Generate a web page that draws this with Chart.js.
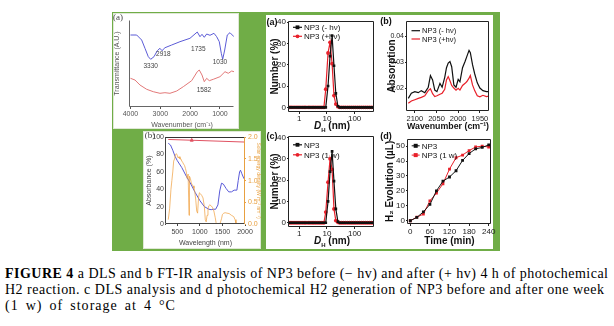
<!DOCTYPE html>
<html lang="en">
<head>
<meta charset="UTF-8">
<title>Figure 4</title>
<script src="https://cdn.jsdelivr.net/npm/chart.js"></script>
<style>
  html, body { margin: 0; padding: 0; background: #fff; }
  #fig { position: relative; width: 614px; height: 326px; overflow: hidden; font-family: 'Liberation Sans', Arial, sans-serif; }
  .box { position: absolute; box-sizing: border-box; }
  canvas { position: absolute; }
  .lab { position: absolute; transform: translate(-50%, -50%); white-space: nowrap; color: #111; }
  .cap { position: absolute; left: 5px; font-family: 'Liberation Serif', serif; font-size: 14px; line-height: 16px; white-space: nowrap; color: #000; }
</style>
</head>
<body>
<div id="fig">
  <div class="box" style="left:112px;top:12px;width:388px;height:239px;background:#70ad47"></div>
  <div class="box" style="left:113px;top:13px;width:126px;height:116px;background:#fff;border:1px solid #dfe8d6"></div>
  <div class="box" style="left:143px;top:131px;width:118px;height:118px;background:#fff;border:1px solid #dfe8d6"></div>
  <div class="box" style="left:266px;top:15px;width:227px;height:234px;background:#fff"></div>

  <canvas id="irA"></canvas>
  <canvas id="absB"></canvas>
  <canvas id="dlsA"></canvas>
  <canvas id="ftB"></canvas>
  <canvas id="dlsC"></canvas>
  <canvas id="h2D"></canvas>

  <div class="lab" style="left:118px;top:17px;font:9px 'Liberation Serif',serif;color:#444">(a)</div>
  <div class="lab" style="left:150px;top:135px;font:9px 'Liberation Serif',serif;color:#444">(b)</div>
  <div class="lab" style="left:272px;top:22px;font-weight:bold;font-size:9px">(a)</div>
  <div class="lab" style="left:386px;top:21px;font-weight:bold;font-size:9px">(b)</div>
  <div class="lab" style="left:272px;top:136px;font-weight:bold;font-size:9px">(c)</div>
  <div class="lab" style="left:386px;top:136px;font-weight:bold;font-size:9px">(d)</div>
  <div class="lab" style="left:332px;top:126px;font-weight:bold;font-size:10px"><i>D</i><sub style="font-size:6px">H</sub> (nm)</div>
  <div class="lab" style="left:332px;top:241px;font-weight:bold;font-size:10px"><i>D</i><sub style="font-size:6px">H</sub> (nm)</div>

  <div class="cap" id="l1" style="top:266px"><b>FIGURE 4</b> a DLS and b FT-IR analysis of NP3 before (− hv) and after (+ hv) 4 h of photochemical</div>
  <div class="cap" id="l2" style="top:282px">H2 reaction. c DLS analysis and d photochemical H2 generation of NP3 before and after one week</div>
  <div class="cap" id="l3" style="top:298px">(1 w) of storage at 4 °C</div>
</div>
<script>
// left (a): FT-IR transmittance, arbitrary units
const irWn = [4000, 3792, 3625, 3514, 3403, 3323, 3212, 3102, 3011, 2944, 2843, 2619, 2341, 2006, 1761, 1670, 1603, 1526, 1446, 1335, 1201, 1111, 1023, 956, 909, 842, 755, 665, 531];
const irTop = [65, 65, 60, 51.7, 43.3, 40.7, 43.3, 49.3, 51.7, 49.3, 52.3, 55, 58.3, 61.7, 68, 63.3, 65.7, 62.7, 66, 64.7, 66.7, 63.3, 58.3, 46.7, 40.7, 50, 65, 67.3, 63.3];
const irRedWn = [4000, 3849, 3682, 3457, 3236, 3011, 2844, 2676, 2451, 2230, 1949, 1761, 1694, 1603, 1526, 1446, 1359, 1225, 1000, 832, 722, 608, 531];
const irBottom = [21.7, 20, 15, 10.7, 8.3, 6.7, 7.3, 6.7, 9, 13.3, 19.3, 28.3, 30, 25, 18.3, 21.7, 19.3, 20.7, 23.3, 28.3, 26.7, 29, 28.3];
const peakText = ['3330', '2918', '1735', '1030', '1582'];
const peakWn = [3323, 2900, 1727, 1000, 1536];
const peakVal = [34, 46, 50.7, 37.5, 10];

// left (b): absorbance (%) and solar spectrum
const absWl = [300, 350, 400, 450, 500, 600, 700, 800, 900, 1000, 1100, 1200, 1250, 1300, 1350, 1400, 1440, 1480, 1520, 1580, 1640, 1700, 1760, 1820, 1850, 1880, 1900, 1930, 1970, 2000];
const absBlue = [93, 91, 85, 78, 73, 65, 55, 46, 36, 27, 20, 17, 16.5, 17, 17, 22, 38, 47, 46, 41, 37, 37, 39, 39, 50, 60, 62, 58, 53, 51];
const refWl = [300, 820, 2000];
const refAbs = [97.4, 96.5, 94.4];
const solarWl = [300, 330, 360, 380, 400, 420, 440, 460, 480, 500, 520, 540, 560, 580, 600, 620, 640, 660, 680, 700, 720, 740, 760, 770, 790, 810, 830, 850, 870, 890, 910, 930, 950, 970, 990, 1010, 1040, 1070, 1100, 1120, 1140, 1160, 1180, 1200, 1220, 1250, 1280, 1310, 1340, 1360, 1380, 1400, 1420, 1450, 1480, 1500, 1530, 1560, 1600, 1650, 1700, 1750, 1780, 1800, 1830, 1860, 1900, 1950, 2000];
const solar = [0.1, 0.35, 0.8, 1.0, 1.2, 1.45, 1.5, 1.6, 1.62, 1.58, 1.52, 1.55, 1.5, 1.5, 1.45, 1.42, 1.38, 1.35, 1.28, 1.2, 1.05, 1.15, 0.2, 1.1, 1.05, 0.95, 0.9, 0.88, 0.82, 0.72, 0.55, 0.3, 0.25, 0.6, 0.72, 0.7, 0.66, 0.6, 0.4, 0.1, 0.05, 0.2, 0.35, 0.42, 0.44, 0.42, 0.38, 0.3, 0.15, 0.03, 0, 0, 0, 0.02, 0.12, 0.22, 0.25, 0.26, 0.25, 0.24, 0.2, 0.17, 0.1, 0.02, 0, 0, 0, 0.01, 0.03];

// right (a)/(c): DLS number distributions
const dlsSize = [0.47, 0.55, 0.65, 0.77, 0.91, 1.07, 1.27, 1.5, 1.75, 2.1, 2.45, 2.9, 3.4, 4.0, 4.75, 5.6, 6.6, 7.8, 9.1, 11, 13, 15.4, 18, 21, 25, 29, 34, 40, 47, 56, 66, 78, 92, 108, 128, 151, 178, 210, 248, 293, 345, 408, 480];
const dlsDark  = [0,0,0,0,0, 0,0,0,0,0, 0,0,0,0,0, 0,0,0,0,10, 24,33.6,19.5,6.5,0.5, 0,0,0,0,0, 0,0,0,0,0, 0,0,0,0,0, 0,0,0];
const dlsLight = [0,0,0,0,0, 0,0,0,0,0, 0,0,0,0,0, 0,0,0,8.5,25.5, 30.5,20.5,5.5,1.5,0.3, 0,0,0,0,0, 0,0,0,0,0, 0,0,0,0,0, 0,0,0];
const dlsFresh = [0,0,0,0,0, 0,0,0,0,0, 0,0,0,0,0, 0,0,0,0,10, 24,33.5,19.5,6.5,0.5, 0,0,0,0,0, 0,0,0,0,0, 0,0,0,0,0, 0,0,0];
const dlsWeek  = [0,0,0,0,0, 0,0,0,0,0, 0,0,0,0,0, 0,0,0,5,19, 30,25,6.5,1,0.2, 0,0,0,0,0, 0,0,0,0,0, 0,0,0,0,0, 0,0,0];

// right (b): FT-IR absorption
const ftWn = [2115, 2108, 2100, 2092, 2085, 2077, 2069, 2064, 2059, 2054, 2049, 2042, 2037, 2031, 2027, 2023, 2019, 2015, 2010, 2005, 2000, 1996, 1990, 1984, 1980, 1975, 1972, 1967, 1962, 1956, 1950, 1943, 1935, 1927];
const ftDark  = [0.0160, 0.0180, 0.0186, 0.0182, 0.0190, 0.0182, 0.0203, 0.0248, 0.0231, 0.0192, 0.0186, 0.0218, 0.0203, 0.0241, 0.0278, 0.0296, 0.0302, 0.0282, 0.0212, 0.0203, 0.0233, 0.0224, 0.0278, 0.0303, 0.0322, 0.0345, 0.0336, 0.0290, 0.0255, 0.0220, 0.0200, 0.0190, 0.0186, 0.0186];
const ftLight = [0.0141, 0.0150, 0.0155, 0.0160, 0.0164, 0.0170, 0.0190, 0.0197, 0.0178, 0.0167, 0.0170, 0.0176, 0.0180, 0.0195, 0.0231, 0.0244, 0.0228, 0.0210, 0.0200, 0.0192, 0.0199, 0.0192, 0.0210, 0.0218, 0.0225, 0.0238, 0.0248, 0.0212, 0.0190, 0.0170, 0.0166, 0.0172, 0.0167, 0.0169];

// right (d): H2 evolution
const h2Time = [0, 20, 40, 60, 80, 100, 120, 140, 160, 180, 200, 220, 240];
const h2Fresh = [0, 2.2, 5.9, 10.9, 20, 26.5, 29.3, 33.5, 40.4, 45, 48.2, 49.1, 50.8];
const h2Week = [0, 2.4, 4.4, 13.3, 18.5, 24.8, 34.6, 42.2, 44, 47, 49.4, 50, 49.4];

const xy = (xs, ys) => xs.map((x, i) => ({ x: x, y: ys[i] }));

// box lines around plot area
const framePlugin = {
  id: 'frame',
  afterDatasetsDraw(chart, args, o) {
    if (!o.sides) return;
    const a = chart.chartArea, ctx = chart.ctx;
    const L = Math.round(a.left) - 0.5, R = Math.round(a.right) - 0.5;
    const T = Math.round(a.top) + 0.5, B = Math.round(a.bottom) - 0.5;
    ctx.save();
    ctx.lineWidth = 1;
    const seg = (c, x1, y1, x2, y2) => {
      if (!c) return;
      ctx.strokeStyle = c; ctx.beginPath(); ctx.moveTo(x1, y1); ctx.lineTo(x2, y2); ctx.stroke();
    };
    seg(o.sides.top, L, T, R, T);
    seg(o.sides.bottom, L, B, R, B);
    seg(o.sides.left, L, T, L, B);
    seg(o.sides.right, R, T, R, B);
    ctx.restore();
  }
};

// legend drawn inside the plot (line + marker + text)
const innerLegend = {
  id: 'innerLegend',
  afterDatasetsDraw(chart, args, o) {
    if (!o.rows) return;
    const a = chart.chartArea, ctx = chart.ctx;
    ctx.save();
    ctx.font = o.font || '8px "Liberation Sans"';
    ctx.textBaseline = 'middle';
    chart.data.datasets.forEach((ds, i) => {
      if (o.rows[i] === undefined) return;
      const x = a.left + o.x, y = a.top + o.rows[i];
      ctx.strokeStyle = ds.borderColor; ctx.lineWidth = ds.borderWidth || 1;
      ctx.beginPath(); ctx.moveTo(x, y); ctx.lineTo(x + o.len, y); ctx.stroke();
      const r = ds.pointRadius || 0;
      if (r) {
        ctx.fillStyle = ds.backgroundColor;
        const cx = x + o.len / 2;
        if (ds.pointStyle === 'rect') ctx.fillRect(cx - r, y - r, 2 * r, 2 * r);
        else { ctx.beginPath(); ctx.arc(cx, y, r, 0, Math.PI * 2); ctx.fill(); }
      }
      ctx.fillStyle = o.color || '#111';
      ctx.fillText(ds.label, x + o.len + 2, y + 0.5);
    });
    ctx.restore();
  }
};

// peak numbers on the transmittance plot
const peakLabels = {
  id: 'peakLabels',
  afterDatasetsDraw(chart, args, o) {
    if (!o.text) return;
    const ctx = chart.ctx, sx = chart.scales.x, sy = chart.scales.y;
    ctx.save();
    ctx.font = o.font; ctx.fillStyle = o.color;
    ctx.textAlign = 'center'; ctx.textBaseline = 'middle';
    o.text.forEach((t, i) => ctx.fillText(t, sx.getPixelForValue(o.xs[i]), sy.getPixelForValue(o.ys[i])));
    ctx.restore();
  }
};

const setTicks = vals => s => { s.ticks = vals.map(v => ({ value: v })); };

function axis(extra) {
  const base = {
    border: { display: false },
    grid: { display: true, drawOnChartArea: false, tickLength: 2, color: '#222', lineWidth: 1 },
    ticks: { color: '#222', font: { size: 8 }, padding: 1, maxRotation: 0, autoSkip: false, callback: v => String(v) },
  };
  const out = Object.assign({}, base, extra);
  out.grid = Object.assign({}, base.grid, extra.grid || {});
  out.ticks = Object.assign({}, base.ticks, extra.ticks || {});
  return out;
}

function makeChart(id, plot, m, scales, datasets, plugins) {
  const c = document.getElementById(id);
  c.width = plot[2] - plot[0] + m[0] + m[2];
  c.height = plot[3] - plot[1] + m[1] + m[3];
  c.style.left = (plot[0] - m[0]) + 'px';
  c.style.top = (plot[1] - m[1]) + 'px';
  scales.x.afterFit = s => { s.height = m[3]; };
  scales.y.afterFit = s => { s.width = m[0]; };
  const hasRight = !!scales.y2;
  if (hasRight) scales.y2.afterFit = s => { s.width = m[2]; };
  return new Chart(c, {
    type: 'line',
    data: { datasets: datasets },
    options: {
      responsive: false, animation: false, devicePixelRatio: 1, events: [],
      layout: { padding: { top: m[1], right: hasRight ? 0 : m[2], left: 0, bottom: 0 } },
      scales: scales,
      plugins: Object.assign({ legend: { display: false }, tooltip: { enabled: false } }, plugins || {})
    },
    plugins: [framePlugin, innerLegend, peakLabels]
  });
}

Chart.defaults.font.family = "'Liberation Sans', Arial, sans-serif";

// ---- left (a) transmittance ----
makeChart('irA', [130, 20, 234, 107], [17, 7, 4, 22], {
  x: axis({ type: 'linear', reverse: true, min: 530, max: 4016, afterBuildTicks: setTicks([4000, 3000, 2000, 1000]),
    ticks: { color: '#555', font: { size: 7 }, padding: 0.5 }, grid: { color: '#555' },
    title: { display: true, text: 'Wavenumber (cm⁻¹)', color: '#555', font: { size: 7 }, padding: { top: 0, bottom: 0 } } }),
  y: axis({ type: 'linear', min: -7, max: 80, ticks: { display: false }, grid: { display: false },
    title: { display: true, text: 'Transmittance (A.U.)', color: '#555', font: { size: 7 }, padding: { top: 0, bottom: 0 } } })
}, [
  { data: xy(irWn, irTop), borderColor: '#5b5bd6', borderWidth: 1, pointRadius: 0 },
  { data: xy(irRedWn, irBottom), borderColor: '#e27878', borderWidth: 1, pointRadius: 0 }
], {
  frame: { sides: { left: '#666', bottom: '#666' } },
  peakLabels: { text: peakText, xs: peakWn, ys: peakVal, font: '6.5px "Liberation Sans"', color: '#444' }
});

// ---- left (b) absorbance + solar spectrum ----
makeChart('absB', [166, 135, 245, 224], [23, 4, 16, 25], {
  x: axis({ type: 'linear', min: 250, max: 2000, afterBuildTicks: setTicks([500, 1000, 1500, 2000]),
    ticks: { color: '#444', font: { size: 7 }, padding: 2 }, grid: { color: '#444' },
    title: { display: true, text: 'Wavelength (nm)', color: '#444', font: { size: 7 }, padding: { top: 0, bottom: 1.5 } } }),
  y: axis({ type: 'linear', min: 0, max: 100, afterBuildTicks: setTicks([0, 20, 40, 60, 80, 100]),
    ticks: { color: '#444', font: { size: 7 }, padding: 1 }, grid: { tickLength: 1, color: '#444' },
    title: { display: true, text: 'Absorbance (%)', color: '#444', font: { size: 7 }, padding: { top: 1.8, bottom: 0 } } }),
  y2: axis({ type: 'linear', position: 'right', min: 0, max: 2, afterBuildTicks: setTicks([0, 0.5, 1, 1.5, 2]),
    ticks: { color: '#e8a040', font: { size: 7 }, padding: 2, callback: v => v.toFixed(1) }, grid: { tickLength: 1, color: '#e8a040' },
    title: { display: true, text: 'Solar energy density (W m⁻² nm⁻¹)', color: '#e8a040', font: { size: 5 }, padding: { top: 0, bottom: 0 } } })
}, [
  { data: xy(solarWl, solar), yAxisID: 'y2', borderColor: 'rgba(240,160,64,0.8)', borderWidth: 0.9, pointRadius: 0 },
  { data: xy(absWl, absBlue), borderColor: '#5a5ad8', borderWidth: 1, pointRadius: 0 },
  { data: xy(refWl, refAbs), borderColor: '#e05262', backgroundColor: '#e05262', borderWidth: 1, pointRadius: [0, 1.8, 0], pointStyle: 'triangle' }
], {
  frame: { sides: { left: '#444', bottom: '#444', top: '#333', right: '#e8a040' } }
});

// ---- right (a) DLS ----
const dlsScales = (ymin, ymax) => ({
  x: axis({ type: 'logarithmic', min: 0.43, max: 500, afterBuildTicks: setTicks([1, 10, 100]),
    ticks: { padding: 0 } }),
  y: axis({ type: 'linear', min: ymin, max: ymax, afterBuildTicks: setTicks([0, 10, 20, 30, 40]),
    title: { display: true, text: 'Number (%)', color: '#111', font: { size: 10, weight: 'bold' }, padding: { top: 3, bottom: 0 } } })
});
const darkLine = (label, vals, xs) => ({ label: label, data: xy(xs, vals), borderColor: '#111', backgroundColor: '#111', borderWidth: 1.2, pointRadius: 1.9, pointStyle: 'rect', pointBorderWidth: 0 });
const redLine = (label, vals, xs, style) => ({ label: label, data: xy(xs, vals), borderColor: '#e8202a', backgroundColor: '#e8202a', borderWidth: 1.2, pointRadius: 1.9, pointStyle: style, pointBorderWidth: 0 });
const boxAll = { top: '#222', bottom: '#222', left: '#222', right: '#222' };

makeChart('dlsA', [289, 20, 374, 112], [23, 5, 4, 12], dlsScales(-2.2, 40.6), [
  darkLine('NP3 (- hν)', dlsDark, dlsSize),
  redLine('NP3 (+hν)', dlsLight, dlsSize, 'circle')
], {
  frame: { sides: boxAll },
  innerLegend: { x: 4, len: 9, rows: [6.5, 15.5], font: '8px "Liberation Sans"' }
});

// ---- right (c) DLS ----
makeChart('dlsC', [289, 135, 374, 227], [23, 5, 4, 12], dlsScales(-2.0, 40.8), [
  darkLine('NP3', dlsFresh, dlsSize),
  redLine('NP3 (1 w)', dlsWeek, dlsSize, 'circle')
], {
  frame: { sides: boxAll },
  innerLegend: { x: 4, len: 9, rows: [9, 19], font: '8px "Liberation Sans"' }
});

// ---- right (b) FT-IR ----
makeChart('ftB', [407, 21, 489, 111], [26, 6, 4, 22], {
  x: axis({ type: 'linear', reverse: true, min: 1929, max: 2118, afterBuildTicks: setTicks([2100, 2050, 2000, 1950]),
    ticks: { padding: 1, font: { size: 7.5 } },
    title: { display: true, text: 'Wavenumber (cm⁻¹)', color: '#111', font: { size: 9, weight: 'bold' }, padding: { top: 0, bottom: 0.6 } } }),
  y: axis({ type: 'linear', min: 0.01115, max: 0.0458, afterBuildTicks: setTicks([0.02, 0.03, 0.04]),
    ticks: { font: { size: 7 } },
    title: { display: true, text: 'Absorption', color: '#111', font: { size: 10, weight: 'bold' }, padding: { top: 5, bottom: 0 } } })
}, [
  { label: 'NP3 (- hν)', data: xy(ftWn, ftDark), borderColor: '#111', borderWidth: 1.2, pointRadius: 0 },
  { label: 'NP3 (+hν)', data: xy(ftWn, ftLight), borderColor: '#e8202a', borderWidth: 1.2, pointRadius: 0 }
], {
  frame: { sides: boxAll },
  innerLegend: { x: 4.5, len: 8.5, rows: [9.7, 18], font: '7.5px "Liberation Sans"' }
});

// ---- right (d) H2 evolution ----
makeChart('h2D', [408, 137, 492, 224], [27, 4, 4, 25], {
  x: axis({ type: 'linear', min: -7, max: 247, afterBuildTicks: setTicks([0, 60, 120, 180, 240]),
    ticks: { padding: 0.5 },
    title: { display: true, text: 'Time (min)', color: '#111', font: { size: 10, weight: 'bold' }, padding: { top: 0, bottom: 2 } } }),
  y: axis({ type: 'linear', min: -2.2, max: 54.9, afterBuildTicks: setTicks([0, 10, 20, 30, 40, 50]),
    title: { display: true, text: 'H₂ Evolution (µL)', color: '#111', font: { size: 10, weight: 'bold' }, padding: { top: 3, bottom: 0 } } })
}, [
  { label: 'NP3', data: xy(h2Time, h2Fresh), borderColor: '#111', backgroundColor: '#111', borderWidth: 1, pointRadius: 2, pointStyle: 'rect', pointBorderWidth: 0 },
  { label: 'NP3 (1 w)', data: xy(h2Time, h2Week), borderColor: '#e8202a', backgroundColor: '#e8202a', borderWidth: 1, pointRadius: 2, pointStyle: 'rect', pointBorderWidth: 0 }
], {
  frame: { sides: boxAll },
  innerLegend: { x: 3.7, len: 8, rows: [7, 16.3], font: '8px "Liberation Sans"' }
});

// stretch the caption lines to the widths in the figure
function fitLine(id, target) {
  const el = document.getElementById(id);
  const w = el.getBoundingClientRect().width;
  const ls = (target - w) / (el.textContent.length - 1);
  el.style.letterSpacing = ls + 'px';
  return ls;
}
fitLine('l1', 603);
const ls2 = fitLine('l2', 599);
// last line: share the extra width between letters and word gaps
const l3 = document.getElementById('l3');
l3.style.letterSpacing = ls2 + 'px';
const extra = 168 - l3.getBoundingClientRect().width;
if (extra > 0) {
  l3.style.letterSpacing = (ls2 + extra * 0.5 / 23) + 'px';
  l3.style.wordSpacing = (extra * 0.5 / 5) + 'px';
}
</script>
</body>
</html>
